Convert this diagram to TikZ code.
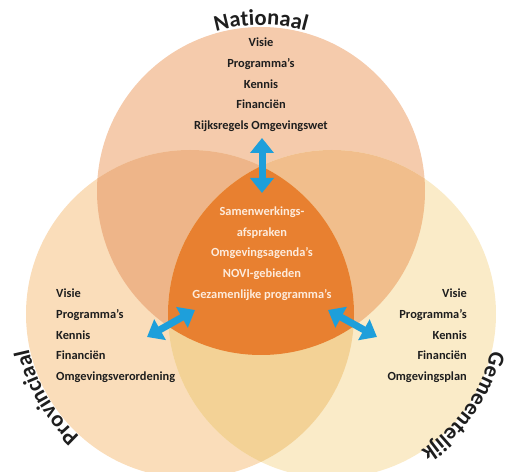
\documentclass[tikz,border=0pt]{standalone}
\usepackage{fontspec}
\setmainfont{Carlito}
\usetikzlibrary{arrows.meta,decorations.text}
\definecolor{cT}{HTML}{F5CBAC}
\definecolor{cL}{HTML}{FADDBA}
\definecolor{cR}{HTML}{FAEBC8}
\definecolor{cTL}{HTML}{EEB589}
\definecolor{cTR}{HTML}{F1BE8C}
\definecolor{cLR}{HTML}{F3D296}
\definecolor{cC}{HTML}{E88030}
\definecolor{arrowblue}{HTML}{1E9FDB}
\definecolor{txt}{HTML}{1E1E1E}
\definecolor{ctxt}{HTML}{FDEBDC}
\begin{document}
\begin{tikzpicture}[x=1pt,y=1pt,
  listtext/.style={inner sep=0pt, font=\bfseries\fontsize{12.4}{20.7}\selectfont, text=txt},
  blockarrow/.style={draw=arrowblue, line width=7pt,
    {Triangle[width=23pt,length=15pt]}-{Triangle[width=23pt,length=15pt]}},
  curvelabel/.style={decorate, decoration={text along path, text align=center, text color=txt,
    text={|\bfseries\fontsize{22.5}{22.5}\selectfont|#1}}}
]
\useasboundingbox (0,0) rectangle (507,472);
\coordinate (T) at (261,281);
\coordinate (L) at (190,158);
\coordinate (R) at (332,158);
\def\rad{164}
% base circles
\fill[cT] (T) circle (\rad);
\fill[cL] (L) circle (\rad);
\fill[cR] (R) circle (\rad);
% pairwise overlaps
\begin{scope}\clip (T) circle (\rad); \fill[cTL] (L) circle (\rad); \end{scope}
\begin{scope}\clip (T) circle (\rad); \fill[cTR] (R) circle (\rad); \end{scope}
\begin{scope}\clip (L) circle (\rad); \fill[cLR] (R) circle (\rad); \end{scope}
% triple overlap
\begin{scope}\clip (T) circle (\rad); \clip (L) circle (\rad); \fill[cC] (R) circle (\rad); \end{scope}

% curved titles
\path[curvelabel=Nationaal] ([shift={(140:166)}]T) arc[start angle=140, end angle=40, radius=166];
\path[curvelabel=Provinciaal] ([shift={(260:165)}]L) arc[start angle=260, end angle=160, radius=165];
\path[curvelabel=Gemeentelijk] ([shift={(15:163)}]R) arc[start angle=15, end angle=-85, radius=163];

% text blocks
\node[listtext, anchor=north, align=center] (top) at (261,434)
  {Visie\\Programma’s\\Kennis\\Financiën\\Rijksregels Omgevingswet};
\node[listtext, anchor=north west, align=left] (left) at (56,183)
  {Visie\\Programma’s\\Kennis\\Financiën\\Omgevingsverordening};
\node[listtext, anchor=north east, align=right] (right) at (467,183)
  {Visie\\Programma’s\\Kennis\\Financiën\\Omgevingsplan};
\node[listtext, anchor=north, align=center, text=ctxt] (center) at (262,265.5)
  {Samenwerkings-\\afspraken\\Omgevingsagenda’s\\NOVI-gebieden\\Gezamenlijke programma’s};

% arrows
\coordinate (a1) at (262,334);
\coordinate (a2) at (262,279);
\coordinate (b1) at (147,135);
\coordinate (b2) at (195,162);
\coordinate (c1) at (328,162);
\coordinate (c2) at (377,135);
\draw[blockarrow] (a1) -- (a2);
\draw[blockarrow] (b1) -- (b2);
\draw[blockarrow] (c1) -- (c2);
\end{tikzpicture}
\end{document}
